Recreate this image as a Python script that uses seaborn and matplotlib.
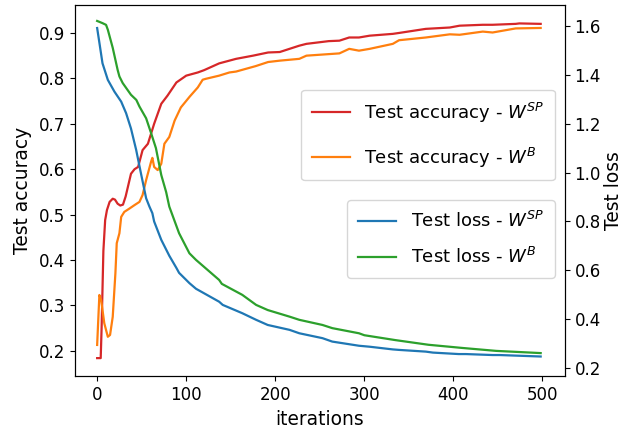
import matplotlib
matplotlib.use("Agg")
import matplotlib.pyplot as plt
import seaborn as sns
import numpy as np

# ---- data ----
acc_sp_iter = [0, 4, 5, 7, 9, 11, 14, 17.5, 20, 23, 26, 29, 32, 35, 38, 42, 46, 51, 57, 64, 72, 79, 89,
               100, 113, 120, 137, 156, 175, 192, 205, 227, 235, 260, 272, 283, 294, 306, 332, 339,
               369, 396, 407, 433, 444, 470, 474, 498]
acc_sp = [0.184, 0.184, 0.25, 0.42, 0.488, 0.51, 0.528, 0.535, 0.533, 0.524, 0.52, 0.522, 0.54, 0.565,
          0.59, 0.60, 0.605, 0.642, 0.656, 0.70, 0.744, 0.762, 0.791, 0.806, 0.813, 0.818, 0.833, 0.843,
          0.85, 0.857, 0.858, 0.872, 0.876, 0.882, 0.883, 0.89, 0.89, 0.894, 0.898, 0.90, 0.909, 0.912,
          0.916, 0.918, 0.918, 0.92, 0.921, 0.92]

acc_b_iter = [0, 2.5, 4.5, 8, 12, 14.5, 17.5, 20.5, 22, 25, 27, 30.5, 36, 42, 47.5, 51, 55, 60.5, 62, 64,
              68, 72, 75.5, 81, 87, 94, 104, 113, 118.5, 122, 137, 148.5, 156, 178, 192, 205, 227, 235,
              272, 283, 294, 306, 332, 339, 369, 396, 407, 433, 444, 470, 498]
acc_b = [0.213, 0.323, 0.312, 0.261, 0.231, 0.235, 0.275, 0.371, 0.437, 0.459, 0.495, 0.506, 0.513, 0.521,
         0.528, 0.543, 0.576, 0.616, 0.625, 0.605, 0.598, 0.612, 0.656, 0.671, 0.707, 0.736, 0.76, 0.78,
         0.797, 0.799, 0.806, 0.813, 0.815, 0.827, 0.836, 0.839, 0.843, 0.85, 0.855, 0.865, 0.861, 0.865,
         0.876, 0.884, 0.89, 0.897, 0.896, 0.903, 0.901, 0.91, 0.911]

loss_sp_iter = [0, 2.6, 6, 12, 19.4, 27, 32.5, 38, 43.8, 49, 53, 55, 58.7, 62, 64, 72, 81, 89, 92, 103.6,
                111, 137, 141, 163, 178.5, 191.5, 216, 227, 253, 264, 294, 306, 332, 339, 369, 377, 406,
                414, 444, 452, 498]
loss_sp = [1.591, 1.529, 1.447, 1.379, 1.331, 1.29, 1.243, 1.18, 1.093, 1.0, 0.93, 0.895, 0.861, 0.834,
           0.80, 0.725, 0.66, 0.61, 0.59, 0.548, 0.525, 0.472, 0.459, 0.425, 0.398, 0.377, 0.357, 0.343,
           0.323, 0.309, 0.292, 0.288, 0.277, 0.275, 0.268, 0.264, 0.258, 0.258, 0.254, 0.254, 0.248]

loss_b_iter = [0, 6, 10, 12, 17.5, 23, 25, 28.7, 38, 44, 47.5, 55, 60.6, 66, 72, 77.5, 81, 92, 103.6, 111,
               137, 140, 163, 178.5, 191.5, 216, 227, 253, 264, 294, 300, 335, 372, 410, 448, 498]
loss_b = [1.62, 1.611, 1.604, 1.584, 1.51, 1.42, 1.393, 1.366, 1.318, 1.297, 1.27, 1.222, 1.161, 1.10, 0.99,
          0.92, 0.861, 0.752, 0.67, 0.643, 0.561, 0.545, 0.5, 0.459, 0.438, 0.411, 0.398, 0.377, 0.364,
          0.343, 0.335, 0.315, 0.296, 0.283, 0.271, 0.262]

acc_ticks = [0.2, 0.3, 0.4, 0.5, 0.6, 0.7, 0.8, 0.9]
loss_ticks = [0.2, 0.4, 0.6, 0.8, 1.0, 1.2, 1.4, 1.6]
x_ticks = [0, 100, 200, 300, 400, 500]

plt.rcParams['font.family'] = ['DejaVu Sans']
plt.rcParams['font.size'] = 12

fig = plt.figure(figsize=(6.24, 4.36), dpi=100)
ax1 = fig.add_axes([0.120, 0.138, 0.785, 0.851])
ax2 = ax1.twinx()

lw = 1.6
sns.lineplot(x=acc_sp_iter, y=acc_sp, ax=ax1, color='tab:red', linewidth=lw, label='Test accuracy - $W^{SP}$')
sns.lineplot(x=acc_b_iter, y=acc_b, ax=ax1, color='tab:orange', linewidth=lw, label='Test accuracy - $W^{B}$')
sns.lineplot(x=loss_sp_iter, y=loss_sp, ax=ax2, color='tab:blue', linewidth=lw, label='Test loss - $W^{SP}$')
sns.lineplot(x=loss_b_iter, y=loss_b, ax=ax2, color='tab:green', linewidth=lw, label='Test loss - $W^{B}$')

ax1.set_xlim(-25, 525)
ax1.set_ylim(0.145, 0.962)
ax2.set_ylim(0.169, 1.686)
ax1.set_xticks(x_ticks)
ax1.set_yticks(acc_ticks)
ax2.set_yticks(loss_ticks)
ax1.set_xlabel('iterations', fontsize=13.4, labelpad=5)
ax1.set_ylabel('Test accuracy', fontsize=13.4, labelpad=5)
ax2.set_ylabel('Test loss', fontsize=13.4, labelpad=2)
ax1.tick_params(labelsize=12)
ax2.tick_params(labelsize=12)

ax1.legend(loc='upper right', bbox_to_anchor=(0.98, 0.771), borderaxespad=0, fontsize=13,
           labelspacing=1.15, handlelength=2.1, borderpad=0.6)
ax2.legend(loc='upper right', bbox_to_anchor=(0.98, 0.474), borderaxespad=0, fontsize=13,
           labelspacing=0.9, handlelength=2.1, borderpad=0.6)

fig.savefig('out.png', dpi=100)
